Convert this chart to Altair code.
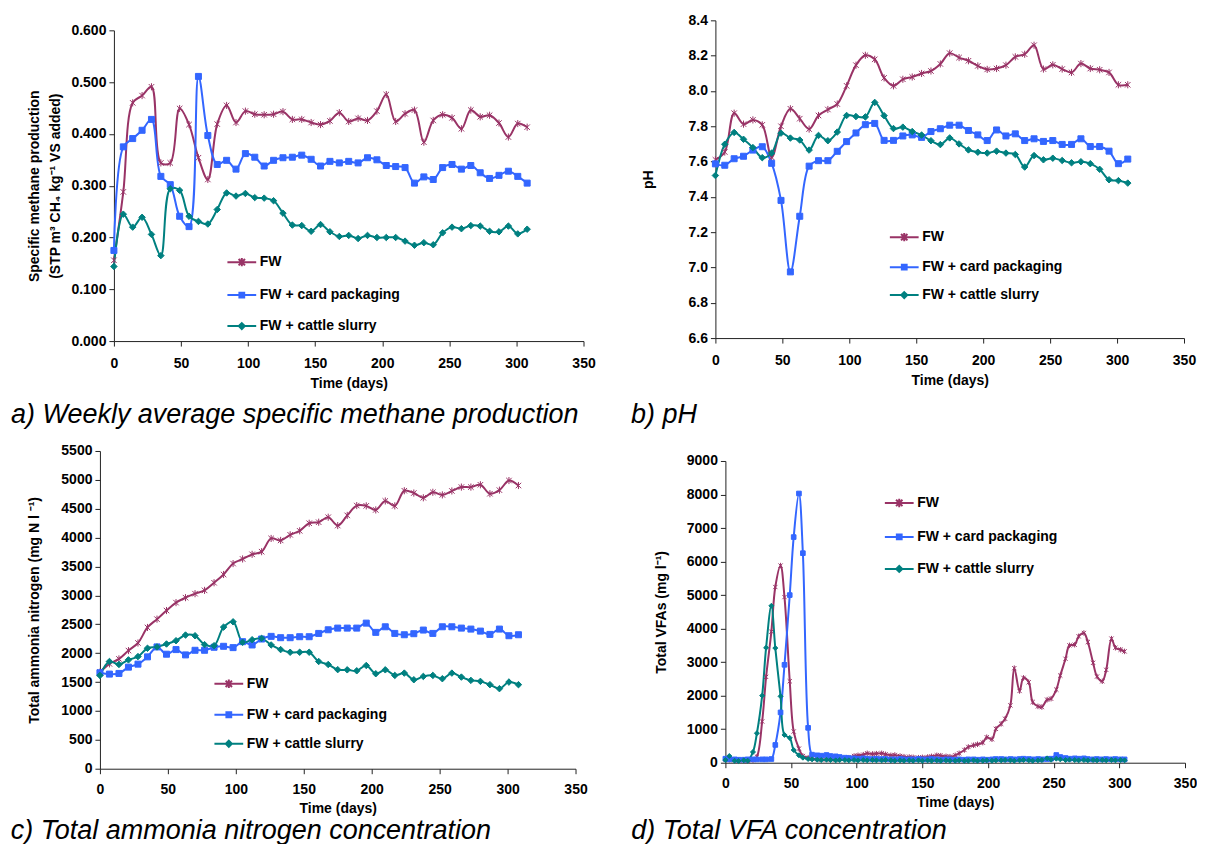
import altair as alt
import pandas as pd

SERIES = ["FW", "FW + card packaging", "FW + cattle slurry"]
COLORS = ["#993366", "#3366FF", "#008080"]

X_TICKS = [0, 50, 100, 150, 200, 250, 300, 350]

DAYS_WEEKLY = [0, 7, 14, 21, 28, 35, 42, 49, 56, 63, 70, 77, 84, 91, 98, 105, 112, 119, 126, 133,
               140, 147, 154, 161, 168, 175, 182, 189, 196, 203, 210, 217, 224, 231, 238, 245, 252,
               259, 266, 273, 280, 287, 294, 301, 308]

# a) specific methane production
A_FW = [0.156, 0.288, 0.460, 0.474, 0.491, 0.344, 0.344, 0.449, 0.418, 0.354, 0.312, 0.419, 0.455,
        0.422, 0.444, 0.438, 0.437, 0.438, 0.443, 0.428, 0.428, 0.422, 0.418, 0.425, 0.441, 0.424,
        0.430, 0.426, 0.444, 0.476, 0.424, 0.439, 0.446, 0.384, 0.426, 0.437, 0.431, 0.410, 0.446,
        0.433, 0.436, 0.421, 0.394, 0.420, 0.413]
A_CARD = [0.175, 0.375, 0.391, 0.407, 0.428, 0.318, 0.302, 0.241, 0.221, 0.511, 0.397, 0.341, 0.349,
          0.332, 0.362, 0.355, 0.338, 0.349, 0.354, 0.355, 0.359, 0.351, 0.338, 0.347, 0.344, 0.347,
          0.344, 0.354, 0.350, 0.339, 0.337, 0.335, 0.305, 0.317, 0.312, 0.335, 0.341, 0.332, 0.339,
          0.325, 0.314, 0.320, 0.328, 0.318, 0.305]
A_SLURRY = [0.144, 0.245, 0.220, 0.239, 0.206, 0.165, 0.294, 0.291, 0.241, 0.231, 0.226, 0.254, 0.286,
            0.280, 0.285, 0.277, 0.276, 0.271, 0.247, 0.224, 0.223, 0.212, 0.225, 0.211, 0.202, 0.204,
            0.198, 0.204, 0.200, 0.200, 0.200, 0.193, 0.185, 0.190, 0.186, 0.209, 0.220, 0.217, 0.223,
            0.222, 0.212, 0.211, 0.222, 0.207, 0.216]

# b) pH
B_FW = [7.610, 7.654, 7.874, 7.812, 7.836, 7.808, 7.624, 7.800, 7.899, 7.843, 7.784, 7.861, 7.895,
        7.926, 8.029, 8.146, 8.202, 8.179, 8.074, 8.029, 8.066, 8.079, 8.099, 8.113, 8.153, 8.214,
        8.189, 8.171, 8.142, 8.122, 8.127, 8.146, 8.193, 8.208, 8.259, 8.124, 8.148, 8.124, 8.105,
        8.155, 8.127, 8.120, 8.105, 8.035, 8.035]
B_CARD = [7.587, 7.579, 7.616, 7.630, 7.665, 7.684, 7.590, 7.380, 6.975, 7.290, 7.574, 7.605, 7.605,
          7.658, 7.713, 7.762, 7.809, 7.816, 7.720, 7.720, 7.745, 7.751, 7.737, 7.770, 7.786, 7.806,
          7.806, 7.776, 7.751, 7.719, 7.779, 7.745, 7.757, 7.719, 7.729, 7.714, 7.719, 7.697, 7.697,
          7.729, 7.685, 7.685, 7.659, 7.588, 7.614]
B_SLURRY = [7.521, 7.698, 7.765, 7.726, 7.679, 7.622, 7.648, 7.761, 7.733, 7.722, 7.665, 7.748, 7.718,
            7.767, 7.861, 7.855, 7.853, 7.935, 7.860, 7.787, 7.795, 7.770, 7.750, 7.718, 7.696, 7.734,
            7.700, 7.666, 7.653, 7.648, 7.659, 7.648, 7.640, 7.569, 7.634, 7.610, 7.619, 7.606, 7.593,
            7.599, 7.588, 7.556, 7.497, 7.492, 7.478]

# c) total ammonia nitrogen
C_FW = [1672, 1815, 1901, 2045, 2176, 2445, 2589, 2738, 2875, 2961, 3030, 3087, 3219, 3362, 3551,
        3631, 3711, 3757, 3986, 3952, 4049, 4118, 4249, 4267, 4353, 4209, 4385, 4555, 4550, 4480,
        4635, 4550, 4812, 4772, 4690, 4785, 4740, 4808, 4875, 4875, 4915, 4760, 4822, 4988, 4902]
C_CARD = [1661, 1638, 1649, 1758, 1810, 1936, 2108, 1982, 2062, 1970, 2050, 2050, 2102, 2119, 2096,
          2199, 2142, 2245, 2291, 2268, 2268, 2285, 2285, 2342, 2405, 2434, 2434, 2434, 2520, 2360,
          2457, 2342, 2319, 2337, 2400, 2342, 2457, 2457, 2434, 2417, 2382, 2325, 2417, 2302, 2319]
C_SLURRY = [1615, 1856, 1804, 1884, 1941, 2085, 2108, 2159, 2216, 2314, 2302, 2148, 2130, 2451, 2543,
            2188, 2233, 2256, 2142, 2062, 2016, 2016, 2016, 1856, 1804, 1715, 1712, 1695, 1787, 1644,
            1712, 1615, 1655, 1540, 1598, 1615, 1558, 1655, 1586, 1529, 1512, 1455, 1386, 1500, 1455]

# d) total VFA (twice-weekly samples)
DAYS_VFA = [0, 3, 7, 10, 14, 17, 21, 24, 28, 31, 35, 38, 42, 45, 49, 52, 56, 59, 63, 66,
            70, 73, 77, 80, 84, 87, 91, 94, 98, 101, 105, 108, 112, 115, 119, 122, 126, 129, 133, 136,
            140, 143, 147, 150, 154, 157, 161, 164, 168, 171, 175, 178, 182, 185, 189, 192, 196, 199,
            203, 206, 210, 213, 217, 220, 224, 227, 231, 234, 238, 241, 245, 248, 252, 255, 259, 262,
            266, 269, 273, 276, 280, 283, 287, 290, 294, 297, 301, 304]
D_FW = [100, 90, 80, 70, 70, 60, 80, 180, 1230, 2560, 3910, 5240, 5880, 4940, 2430, 930, 420, 200,
        150, 120, 110, 100, 100, 110, 100, 110, 120, 150, 200, 220, 240, 280, 260, 270, 280, 250,
        220, 230, 200, 180, 170, 160, 150, 160, 170, 190, 220, 210, 190, 180, 220, 280, 380, 470,
        520, 550, 600, 760, 700, 1010, 1160, 1310, 1710, 2820, 2140, 2530, 2400, 1810, 1680, 1660,
        1880, 1910, 2180, 2600, 3100, 3500, 3520, 3770, 3870, 3600, 2980, 2570, 2430, 2770, 3700,
        3430, 3370, 3320]
D_CARD = [120, 100, 100, 90, 90, 100, 100, 100, 100, 100, 110, 530, 1500, 2920, 5000, 6730, 8030,
          6250, 1040, 240, 220, 210, 230, 200, 190, 170, 150, 140, 130, 120, 130, 120, 110, 120, 110,
          110, 100, 100, 110, 100, 100, 100, 110, 100, 100, 110, 100, 90, 100, 100, 90, 100, 90, 100,
          100, 90, 100, 90, 100, 110, 110, 100, 110, 100, 110, 120, 110, 100, 110, 100, 110, 120, 230,
          170, 140, 120, 130, 120, 130, 110, 100, 110, 100, 110, 100, 110, 100, 100]
D_SLURRY = [80, 200, 60, 50, 70, 60, 320, 880, 2000, 3430, 4680, 3420, 1980, 830, 740, 380, 220, 150,
            110, 100, 90, 80, 90, 80, 70, 80, 80, 70, 80, 70, 80, 70, 80, 70, 70, 80, 70, 60, 70, 60,
            70, 60, 70, 60, 70, 60, 70, 60, 70, 60, 60, 70, 60, 60, 70, 60, 60, 70, 60, 70, 70, 80, 70,
            60, 70, 80, 70, 60, 70, 80, 130, 90, 120, 100, 80, 90, 80, 70, 80, 70, 80, 70, 80, 70, 80,
            70, 80, 70]

FONT = "Liberation Sans"
ASTERISK = "M-1,-1L1,1M-1,1L1,-1M0,-1.3V1.3"
MARKERS = [ASTERISK, "square", "diamond"]
# legend symbols: a line segment with the series marker drawn on it (stroke only)
LEG_PATHS = [
    "M-3.6,0H3.6M-0.8,-0.8L0.8,0.8M-0.8,0.8L0.8,-0.8M0,-1.05V1.05",
    "M-3.6,0H3.6M-0.6,-0.6H0.6V0.6H-0.6ZM-0.6,-0.3H0.6M-0.6,0.3H0.6",
    "M-3.6,0H3.6M0,-0.75L0.75,0L0,0.75L-0.75,0ZM0,-0.4L0.4,0L0,0.4L-0.4,0Z",
]


def long_df(days, series_values):
    rows = []
    for name, vals in zip(SERIES, series_values):
        for d, v in zip(days, vals):
            rows.append({"day": d, "value": v, "series": name})
    return pd.DataFrame(rows)


def panel(df, y_domain, y_ticks, y_format, y_title, y_title_pad, width, height, x_range, y_range,
          y_offset, leg_x, leg_y, leg_row_pad, caption, caption_dx, caption_offset, marker_sizes,
          x_label_pad, x_title_pad):
    xs = dict(domain=[0, 350], nice=False, zero=False)
    if x_range is not None:
        xs["range"] = x_range
    x_enc = alt.X("day:Q", scale=alt.Scale(**xs),
                  axis=alt.Axis(values=X_TICKS, format="d", title="Time (days)",
                                labelPadding=x_label_pad, titlePadding=x_title_pad,
                                labelFlush=False, labelOverlap=False))
    ys = dict(domain=y_domain, nice=False, zero=False)
    if y_range is not None:
        ys["range"] = y_range
    y_enc = alt.Y("value:Q", scale=alt.Scale(**ys),
                  axis=alt.Axis(values=y_ticks, format=y_format, title=y_title,
                                titlePadding=y_title_pad, labelPadding=3, titleLineHeight=21,
                                labelFlush=False, labelOverlap=False, offset=y_offset))
    legend = alt.Legend(
        orient="none", legendX=leg_x, legendY=leg_y, title=None, direction="vertical",
        labelFont=FONT, labelFontSize=14, labelFontWeight="bold", labelColor="#000000",
        labelLimit=400, symbolSize=64, labelOffset=11, rowPadding=leg_row_pad, padding=0,
        symbolStrokeWidth=2, symbolOpacity=1,
    )
    base = alt.Chart(df)
    line = base.mark_line(interpolate="catmull-rom", strokeWidth=2).encode(
        x=x_enc, y=y_enc,
        color=alt.Color("series:N", scale=alt.Scale(domain=SERIES, range=COLORS), legend=None),
    )
    pts = base.mark_point(opacity=1, strokeWidth=1).encode(
        x=x_enc, y=y_enc,
        shape=alt.Shape("series:N", scale=alt.Scale(domain=SERIES, range=MARKERS), legend=None),
        fill=alt.Fill("series:N", scale=alt.Scale(domain=SERIES, range=COLORS), legend=None),
        stroke=alt.Stroke("series:N", scale=alt.Scale(domain=SERIES, range=COLORS), legend=None),
        size=alt.Size("series:N", scale=alt.Scale(domain=SERIES, range=marker_sizes), legend=None),
    )
    leg = base.transform_filter("false").mark_point(filled=False, strokeWidth=2, opacity=1).encode(
        x=x_enc, y=y_enc,
        color=alt.Color("series:N", scale=alt.Scale(domain=SERIES, range=COLORS), legend=legend),
        shape=alt.Shape("series:N", scale=alt.Scale(domain=SERIES, range=LEG_PATHS), legend=legend),
    )
    return alt.layer(line, pts, leg).resolve_scale(
        color="independent", shape="independent"
    ).resolve_legend(color="independent", shape="independent").properties(
        width=width, height=height,
        title=alt.TitleParams(caption, orient="bottom", anchor="start", frame="bounds",
                              dx=caption_dx, offset=caption_offset, font=FONT, fontSize=27,
                              fontStyle="italic", fontWeight="normal", color="#000000"),
    )


RES = dict(color="independent", shape="independent", fill="independent",
           stroke="independent", size="independent")

pa = panel(long_df(DAYS_WEEKLY, [A_FW, A_CARD, A_SLURRY]), [0, 0.6],
           [0, 0.1, 0.2, 0.3, 0.4, 0.5, 0.6], ".3f",
           ["Specific methane production", "(STP m\u00b3 CH\u2084 kg\u207b\u00b9 VS added)"],
           8, 484, 321, [14, 484], [321, 10], -14, 135, 235, 17,
           "a) Weekly average specific methane production", -17, 12, [30, 42, 56], 10, 6)
pb = panel(long_df(DAYS_WEEKLY, [B_FW, B_CARD, B_SLURRY]), [6.6, 8.4],
           [6.6, 6.8, 7.0, 7.2, 7.4, 7.6, 7.8, 8.0, 8.2, 8.4], ".1f", "pH",
           32, 469, 318, None, None, 0, 182, 210, 14,
           "b) pH", -11, 15, [30, 42, 56], 10, 6)
pc = panel(long_df(DAYS_WEEKLY, [C_FW, C_CARD, C_SLURRY]), [0, 5500],
           [0, 500, 1000, 1500, 2000, 2500, 3000, 3500, 4000, 4500, 5000, 5500], "d",
           "Total ammonia nitrogen (mg N l \u207b\u00b9)",
           19, 476, 318, None, None, 0, 122, 226, 15,
           "c) Total ammonia nitrogen concentration", -17, 2, [30, 42, 56], 9, 5)
pd_ = panel(long_df(DAYS_VFA, [D_FW, D_CARD, D_SLURRY]), [0, 9000],
            [0, 1000, 2000, 3000, 4000, 5000, 6000, 7000, 8000, 9000], "d",
            "Total VFAs (mg l\u207b\u00b9)",
            18, 460, 312, None, [312, 10], 0, 167, 45, 18,
            "d) Total VFA concentration", -23, 8, [18, 25, 32], 9, 5)

row1 = alt.hconcat(pa, pb, spacing=35).resolve_scale(**RES).resolve_legend(color="independent", shape="independent")
row2 = alt.hconcat(pc, pd_, spacing=43).resolve_scale(**RES).resolve_legend(color="independent", shape="independent")

chart = (
    alt.vconcat(row1, row2, spacing=16)
    .resolve_scale(**RES)
    .resolve_legend(color="independent", shape="independent")
    .properties(padding={"left": 2, "top": 5, "right": 0, "bottom": 0}, background="white")
    .configure_axis(labelFont=FONT, labelFontSize=14, labelFontWeight="bold", labelColor="#000000",
                    titleFont=FONT, titleFontSize=14, titleFontWeight="bold", titleColor="#000000",
                    domainColor="#222222", domainWidth=1, tickColor="#222222", tickSize=5,
                    tickWidth=1, grid=False)
    .configure_view(strokeWidth=0)
)

chart.save("out.html", embed_options={"renderer": "svg", "actions": False})
